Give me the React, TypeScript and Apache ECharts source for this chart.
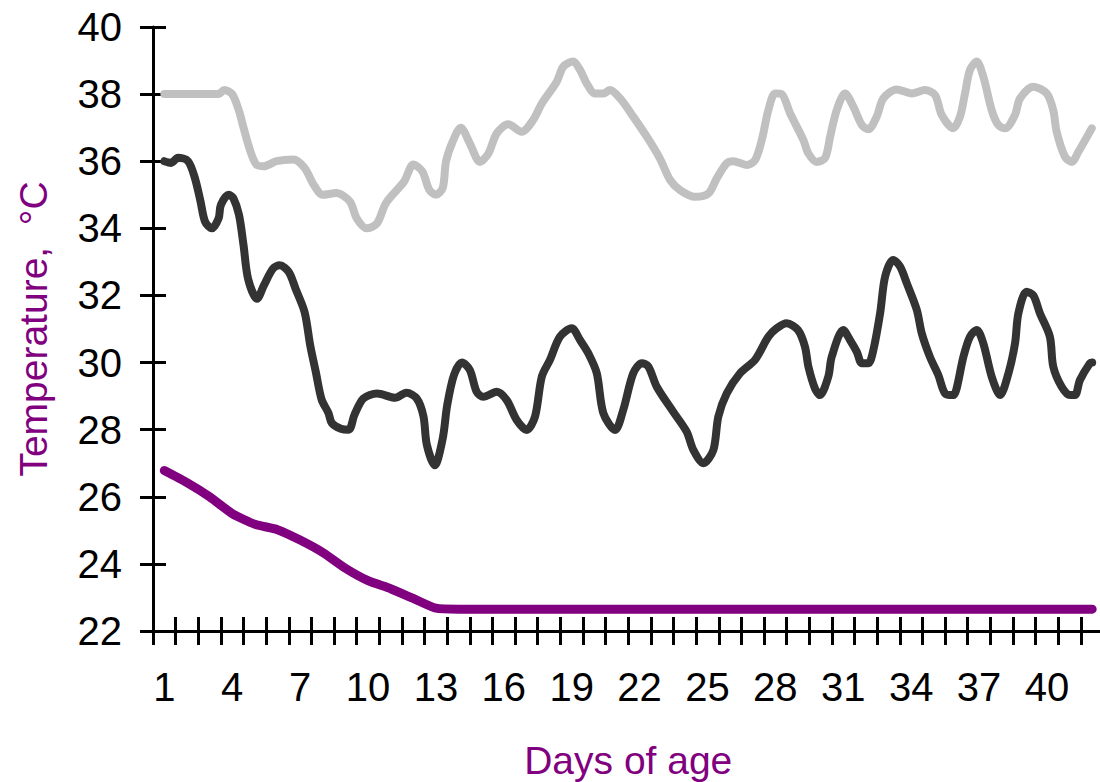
import React, { useEffect, useRef } from "react";
import * as echarts from "echarts";

const dayLabels = [
  "1", "2", "3", "4", "5", "6", "7", "8", "9", "10", "11", "12", "13", "14",
  "15", "16", "17", "18", "19", "20", "21", "22", "23", "24", "25", "26", "27", "28",
  "29", "30", "31", "32", "33", "34", "35", "36", "37", "38", "39", "40", "41", "42",
];

// Maximum temperature (light grey)
const maxDays = [
  1, 2, 3, 3.4, 3.65, 4.0, 4.3, 4.5, 4.8, 5.07, 5.4, 5.95, 6.7, 7.2, 7.6, 8.0, 8.6, 9.2, 9.5,
  9.95, 10.4, 10.8, 11.6, 12.0, 12.4, 12.7, 13.0, 13.3, 13.45, 13.75, 14.1, 14.5, 14.95,
  15.32, 15.69, 16.2, 16.79, 17.3, 17.68, 18.34, 18.63, 19.07, 19.37, 19.66, 20.03, 20.4,
  20.69, 21.14, 21.72, 22.32, 22.9, 23.35, 23.79, 24.45, 25.04, 25.41, 25.85, 26.14, 26.73,
  27.1, 27.4, 27.69, 27.99, 28.28, 28.65, 29.24, 29.46, 29.83, 30.2, 30.42, 30.71, 31.08,
  31.45, 31.82, 32.11, 32.48, 32.77, 33.36, 34.03, 34.61, 35.06, 35.35, 35.86, 36.16, 36.38,
  36.6, 36.9, 37.19, 37.56, 37.85, 38.15, 38.59, 38.81, 39.4, 39.99, 40.28, 40.43, 40.8,
  41.1, 41.39, 41.98,
];
const maxTemps = [
  38.0, 38.0, 38.0, 38.0, 38.12, 38.0, 37.5, 37.0, 36.3, 35.9, 35.85, 36.0, 36.05, 35.8, 35.3,
  35.0, 35.05, 34.8, 34.3, 34.0, 34.15, 34.76, 35.4, 35.9, 35.7, 35.16, 35.0, 35.2, 36.0,
  36.6, 37.0, 36.53, 35.98, 36.23, 36.83, 37.1, 36.88, 37.23, 37.72, 38.37, 38.82, 38.97,
  38.72, 38.32, 38.02, 38.02, 38.12, 37.87, 37.33, 36.73, 36.08, 35.44, 35.14, 34.94, 35.04,
  35.49, 35.94, 36.0, 35.89, 36.03, 36.63, 37.52, 38.02, 38.0, 37.43, 36.63, 36.23, 35.98,
  36.1, 36.73, 37.52, 38.02, 37.62, 37.08, 36.95, 37.33, 37.87, 38.14, 38.02, 38.12, 37.97,
  37.38, 36.98, 37.33, 38.02, 38.72, 38.97, 38.52, 37.52, 37.08, 36.98, 37.38, 37.87, 38.22,
  38.02, 37.52, 36.88, 36.13, 35.98, 36.28, 36.98,
];

// Mean temperature (dark grey)
const meanDays = [
  1, 1.3, 1.6, 2.05, 2.35, 2.6, 2.8, 3.1, 3.4, 3.5, 3.85, 4.05, 4.3, 4.5, 4.7, 5.1, 5.4, 5.8,
  6.1, 6.5, 6.8, 7.2, 7.45, 7.7, 7.95, 8.25, 8.4, 8.8, 9.15, 9.4, 9.8, 10.4, 11.2, 11.7, 12.15,
  12.45, 12.6, 12.95, 13.3, 13.5, 13.8, 14.15, 14.5, 14.8, 15.1, 15.69, 16.13, 16.57, 17.01,
  17.38, 17.68, 18.04, 18.48, 19.0, 19.37, 19.74, 20.11, 20.4, 20.92, 21.28, 21.72, 22.1,
  22.39, 22.76, 23.49, 24.08, 24.38, 24.82, 25.26, 25.48, 25.85, 26.44, 27.1, 27.69, 28.06,
  28.5, 29.0, 29.31, 29.46, 29.75, 29.97, 30.34, 30.49, 31.0, 31.3, 31.6, 31.82, 32.11,
  32.33, 32.63, 32.85, 33.21, 33.51, 33.81, 34.25, 34.47, 34.83, 35.2, 35.5, 35.86, 36.0,
  36.31, 36.6, 36.9, 37.19, 37.56, 37.93, 38.3, 38.59, 38.74, 39.1, 39.4, 39.69, 40.13,
  40.28, 40.65, 41.02, 41.24, 41.46, 41.9, 42.0,
];
const meanTemps = [
  36.0, 35.95, 36.1, 36.0, 35.5, 34.8, 34.2, 34.0, 34.3, 34.7, 35.0, 34.9, 34.4, 33.5, 32.5,
  31.9, 32.3, 32.8, 32.9, 32.7, 32.2, 31.5, 30.5, 29.7, 28.9, 28.5, 28.2, 28.03, 28.0, 28.44,
  28.93, 29.08, 28.95, 29.1, 28.93, 28.4, 27.55, 26.94, 27.73, 28.73, 29.63, 30.0, 29.78,
  29.13, 28.98, 29.13, 28.88, 28.29, 27.99, 28.39, 29.58, 30.08, 30.77, 31.02, 30.67, 30.27,
  29.68, 28.49, 27.99, 28.59, 29.68, 29.98, 29.88, 29.28, 28.53, 27.94, 27.39, 27.0, 27.39,
  28.39, 29.08, 29.68, 30.08, 30.77, 31.02, 31.17, 30.97, 30.47, 29.88, 29.23, 29.03, 29.58,
  30.17, 30.97, 30.67, 30.32, 29.98, 29.98, 30.37, 31.47, 32.56, 33.06, 32.86, 32.36, 31.57,
  30.87, 30.17, 29.63, 29.08, 29.03, 29.2, 30.17, 30.77, 30.97, 30.57, 29.58, 29.03, 29.68,
  30.57, 31.47, 32.11, 32.0, 31.47, 30.77, 29.88, 29.28, 29.03, 29.03, 29.48, 29.98, 30.0,
];

// Target temperature (purple), one value per day
const targetTemps = [
  26.78, 26.42, 26.0, 25.5, 25.18, 25.02, 24.71, 24.34, 23.87, 23.5, 23.26, 22.97, 22.68,
  22.65, 22.65, 22.65, 22.65, 22.65, 22.65, 22.65, 22.65, 22.65, 22.65, 22.65, 22.65, 22.65,
  22.65, 22.65, 22.65, 22.65, 22.65, 22.65, 22.65, 22.65, 22.65, 22.65, 22.65, 22.65, 22.65,
  22.65, 22.65, 22.65,
];

const yMin = 22;
const yMax = 40;
const yStep = 2;

const FONT = "'Liberation Sans', Arial, Helvetica, sans-serif";
const PURPLE = "#800080";

function pairs(xs: number[], ys: number[]) {
  return xs.map((x, i) => [x, ys[i]]);
}

export default function App() {
  const ref = useRef<HTMLDivElement>(null);

  useEffect(() => {
    if (!ref.current) return;
    const chart = echarts.init(ref.current, undefined, { renderer: "svg" });
    const axisLineStyle = { color: "#000", width: 3 };
    const option: any = {
      animation: false,
      backgroundColor: "#fff",
      grid: {
        left: 153,
        top: 27,
        width: 950.5,
        height: 604,
        containLabel: false,
        outerBoundsMode: "none",
      },
      xAxis: [
        {
          type: "category",
          position: "bottom",
          data: dayLabels,
          boundaryGap: true,
          axisLine: { show: true, lineStyle: axisLineStyle },
          axisTick: { show: true, inside: false, length: 14, interval: 0, lineStyle: axisLineStyle },
          axisLabel: {
            interval: 2,
            margin: 36,
            color: "#000",
            fontSize: 40,
            fontFamily: FONT,
          },
          splitLine: { show: false },
          name: "Days of age",
          nameLocation: "middle",
          nameGap: 110,
          nameTextStyle: { color: PURPLE, fontSize: 39, fontFamily: FONT },
        },
        {
          type: "category",
          position: "bottom",
          offset: 0,
          data: dayLabels,
          boundaryGap: true,
          axisLine: { show: false },
          axisTick: { show: true, inside: true, length: 14, interval: 0, lineStyle: axisLineStyle },
          axisLabel: { show: false },
          splitLine: { show: false },
        },
        {
          type: "value",
          position: "bottom",
          min: 0.5,
          max: 42.5,
          show: false,
          splitLine: { show: false },
        },
      ],
      yAxis: [
        {
          type: "value",
          position: "left",
          min: yMin,
          max: yMax,
          interval: yStep,
          axisLine: { show: true, lineStyle: axisLineStyle },
          axisTick: { show: true, inside: false, length: 13, lineStyle: axisLineStyle },
          axisLabel: { margin: 31, color: "#000", fontSize: 40, fontFamily: FONT },
          splitLine: { show: false },
          name: "Temperature,  °C",
          nameLocation: "middle",
          nameGap: 100,
          nameTextStyle: { color: PURPLE, fontSize: 39, fontFamily: FONT },
        },
        {
          type: "value",
          position: "left",
          offset: 0,
          min: yMin,
          max: yMax,
          interval: yStep,
          axisLine: { show: false },
          axisTick: { show: true, inside: true, length: 13, lineStyle: axisLineStyle },
          axisLabel: { show: false },
          splitLine: { show: false },
        },
      ],
      series: [
        {
          name: "Maximum",
          type: "line",
          xAxisIndex: 2,
          yAxisIndex: 0,
          data: pairs(maxDays, maxTemps),
          showSymbol: false,
          smooth: 0.3,
          lineStyle: { color: "#C0C0C0", width: 8, cap: "round", join: "round" },
          z: 3,
        },
        {
          name: "Mean",
          type: "line",
          xAxisIndex: 2,
          yAxisIndex: 0,
          data: pairs(meanDays, meanTemps),
          showSymbol: false,
          smooth: 0.3,
          lineStyle: { color: "#333333", width: 8, cap: "round", join: "round" },
          z: 3,
        },
        {
          name: "Target",
          type: "line",
          xAxisIndex: 2,
          yAxisIndex: 0,
          data: targetTemps.map((v, i) => [i + 1, v]),
          showSymbol: false,
          smooth: 0.2,
          lineStyle: { color: PURPLE, width: 9, cap: "round", join: "round" },
          z: 3,
        },
      ],
    };
    chart.setOption(option);
    return () => chart.dispose();
  }, []);

  return (
    <div
      ref={ref}
      style={{ position: "absolute", left: 0, top: 0, width: 1100, height: 782, background: "#fff" }}
    />
  );
}
